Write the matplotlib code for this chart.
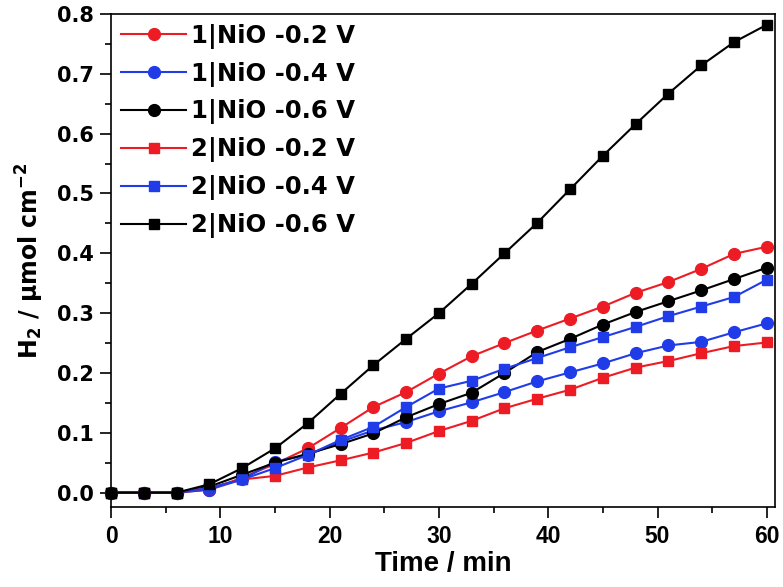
import numpy as np
import matplotlib
matplotlib.use('Agg')
import matplotlib.pyplot as plt
from matplotlib.ticker import MultipleLocator

# Data
time_min = [0, 3, 6, 9, 12, 15, 18, 21, 24, 27, 30, 33, 36, 39, 42, 45, 48, 51, 54, 57, 60]

ni1_02 = [0, 0, 0, 0.005, 0.025, 0.048, 0.074, 0.108, 0.143, 0.168, 0.199, 0.228, 0.250,
          0.271, 0.291, 0.311, 0.334, 0.352, 0.374, 0.399, 0.411]
ni1_04 = [0, 0, 0, 0.005, 0.022, 0.052, 0.063, 0.085, 0.104, 0.118, 0.136, 0.151, 0.168,
          0.186, 0.201, 0.216, 0.233, 0.246, 0.252, 0.268, 0.283]
ni1_06 = [0, 0, 0, 0.010, 0.030, 0.050, 0.065, 0.081, 0.099, 0.126, 0.148, 0.167, 0.200,
          0.235, 0.257, 0.281, 0.302, 0.320, 0.338, 0.357, 0.376]
ni2_02 = [0, 0, 0, 0.008, 0.022, 0.028, 0.042, 0.054, 0.067, 0.083, 0.103, 0.120, 0.141,
          0.157, 0.172, 0.192, 0.209, 0.220, 0.233, 0.245, 0.251]
ni2_04 = [0, 0, 0, 0.008, 0.022, 0.041, 0.063, 0.088, 0.110, 0.143, 0.174, 0.187, 0.207,
          0.225, 0.243, 0.260, 0.277, 0.295, 0.311, 0.327, 0.356]
ni2_06 = [0, 0, 0, 0.014, 0.041, 0.074, 0.116, 0.165, 0.213, 0.257, 0.300, 0.349, 0.400,
          0.451, 0.507, 0.563, 0.616, 0.667, 0.714, 0.753, 0.782]

labels = ['1|NiO -0.2 V', '1|NiO -0.4 V', '1|NiO -0.6 V',
          '2|NiO -0.2 V', '2|NiO -0.4 V', '2|NiO -0.6 V']

red = '#ED1C24'
blue = '#1F3CE8'
black = '#000000'

fig = plt.figure(figsize=(7.83, 5.87), dpi=100)
ax = fig.add_axes([111/783, 1 - 507/587, (775 - 111)/783, (507 - 14)/587])

series = [(ni1_02, red, 'o'), (ni1_04, blue, 'o'), (ni1_06, black, 'o'),
          (ni2_02, red, 's'), (ni2_04, blue, 's'), (ni2_06, black, 's')]
for (vals, col, mk), lab in zip(series, labels):
    ms = 8.5 if mk == 'o' else 6.8
    ax.plot(time_min, vals, color=col, marker=mk, markersize=ms, linewidth=1.5,
            markeredgecolor=col, label=lab, clip_on=False)

ax.set_xlim(0, 60.75)
ax.set_ylim(-0.024, 0.8)
ax.xaxis.set_major_locator(MultipleLocator(10))
ax.xaxis.set_minor_locator(MultipleLocator(5))
ax.yaxis.set_major_locator(MultipleLocator(0.1))
ax.yaxis.set_minor_locator(MultipleLocator(0.05))

for sp in ax.spines.values():
    sp.set_linewidth(1.2)
ax.tick_params(which='major', direction='out', length=8, width=1.2, top=False, right=False)
ax.tick_params(which='minor', direction='out', length=4, width=1.2, top=False, right=False)

ax.set_yticks(np.arange(0, 0.81, 0.1))
ax.set_yticklabels(['%.1f' % v for v in np.arange(0, 0.81, 0.1)],
                   fontsize=15, fontweight='bold', family='DejaVu Sans')
ax.set_xticks(np.arange(0, 61, 10))
ax.set_xticklabels([str(v) for v in range(0, 61, 10)],
                   fontsize=16.5, fontweight='bold', family='Liberation Sans')
ax.tick_params(axis='x', pad=5)
ax.tick_params(axis='y', pad=4)

ax.set_xlabel('Time / min', fontsize=20, fontweight='bold', family='Liberation Sans', labelpad=2)
ax.set_ylabel(r'H$_\mathbf{2}$ / $\mathbf{\mu}$mol cm$^\mathbf{-2}$', fontsize=17,
              fontweight='bold', family='DejaVu Sans', labelpad=8)

leg = ax.legend(loc='upper left', frameon=False, prop={'family': 'DejaVu Sans', 'weight': 'bold', 'size': 17.5},
                handlelength=2.7, handletextpad=0.2, labelspacing=0.53, borderaxespad=0.2,
                borderpad=0.2, numpoints=1)

fig.savefig('out.png', dpi=100)
